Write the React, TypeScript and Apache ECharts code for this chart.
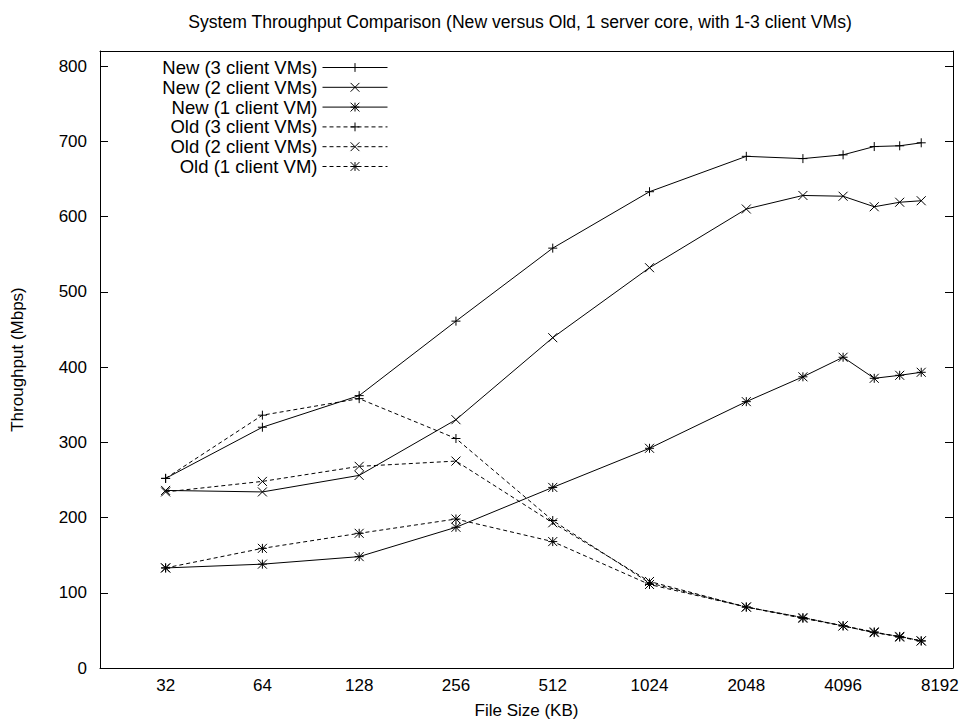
import React, { useEffect, useRef } from "react";
import * as echarts from "echarts";

// File sizes (KB) at which throughput was measured
const fileSizes = [32, 64, 128, 256, 512, 1024, 2048, 3072, 4096, 5120, 6144, 7168];
// X tick labels (KB)
const xTickSizes = [32, 64, 128, 256, 512, 1024, 2048, 4096, 8192];
// Y tick labels (Mbps)
const yTicks = [0, 100, 200, 300, 400, 500, 600, 700, 800];

const seriesNames = [
  "New (3 client VMs)",
  "New (2 client VMs)",
  "New (1 client VM)",
  "Old (3 client VMs)",
  "Old (2 client VMs)",
  "Old (1 client VM)",
];

const new3 = [252, 320, 362, 461, 558, 633, 680, 677, 682, 693, 694, 698];
const new2 = [236, 234, 256, 330, 439, 532, 610, 628, 627, 613, 619, 621];
const new1 = [133, 138, 148, 187, 240, 292, 354, 387, 413, 385, 389, 393];
const old3 = [252, 336, 358, 305, 196, 113, 81, 67, 56, 47, 42, 36];
const old2 = [234, 248, 268, 275, 193, 115, 81, 67, 56, 47, 42, 36];
const old1 = [133, 159, 179, 198, 168, 111, 81, 66, 56, 48, 41, 36];

const titleText =
  "System Throughput Comparison (New versus Old, 1 server core, with 1-3 client VMs)";

const X_MIN = 20;
const X_MAX = 9000;
const Y_MAX = 820;

const PLUS = "path://M0,5L10,5M5,0L5,10";
const CROSS = "path://M0,0L10,10M10,0L0,10";
const STAR = "path://M0,5L10,5M5,0L5,10M0,0L10,10M10,0L0,10";

const FONT = "'Liberation Sans', Arial, Helvetica, sans-serif";
const FS = 17;

export default function App() {
  const ref = useRef<HTMLDivElement>(null);

  useEffect(() => {
    if (!ref.current) return;
    const chart = echarts.init(ref.current, undefined, { renderer: "svg" });

    const valuesList = [new3, new2, new1, old3, old2, old1];
    const symbols = [PLUS, CROSS, STAR, PLUS, CROSS, STAR];
    const dashed = [false, false, false, true, true, true];

    const series = valuesList.map((vals, i) => ({
      name: seriesNames[i],
      type: "line",
      xAxisIndex: 0,
      yAxisIndex: 0,
      data: fileSizes.map((s, j) => [Math.log2(s), vals[j]]),
      symbol: symbols[i],
      symbolSize: 9,
      showSymbol: true,
      showAllSymbol: true,
      itemStyle: { color: "#000", borderColor: "#000", borderWidth: 1 },
      lineStyle: { color: "#000", width: 1, type: dashed[i] ? [4, 3] : "solid" },
      emphasis: { disabled: true },
      z: 3,
    }));

    const xMin = Math.log2(X_MIN);
    const xMax = Math.log2(X_MAX);
    const xTickVals = xTickSizes.map((s) => Math.log2(s));
    const axisLineStyle = { color: "#000", width: 1 };

    chart.setOption({
      animation: false,
      textStyle: { fontFamily: FONT, color: "#000" },
      graphic: [
        {
          type: "text",
          x: 520,
          y: 22,
          style: {
            text: titleText,
            textAlign: "center",
            textVerticalAlign: "middle",
            fontFamily: FONT,
            fontSize: 17.6,
            fill: "#000",
          },
        },
      ],
      grid: { left: 100, right: 9, top: 51, bottom: 54, containLabel: false },
      legend: {
        orient: "vertical",
        right: 574,
        top: 58,
        align: "right",
        itemWidth: 65,
        itemHeight: 11,
        itemGap: 0.8,
        padding: 0,
        selectedMode: false,
        lineStyle: { width: 1 },
        itemStyle: { borderWidth: 1 },
        textStyle: { fontFamily: FONT, fontSize: 18.5, color: "#000", lineHeight: 17.5 },
        data: seriesNames,
      },
      xAxis: [
        {
          type: "value",
          position: "bottom",
          min: xMin,
          max: xMax,
          axisLine: { show: true, onZero: false, lineStyle: axisLineStyle },
          axisTick: { show: false },
          splitLine: { show: false },
          axisLabel: {
            customValues: xTickVals,
            formatter: (v: number) => String(Math.round(Math.pow(2, v))),
            color: "#000",
            fontFamily: FONT,
            fontSize: FS,
            margin: 9,
          },
          name: "File Size (KB)",
          nameLocation: "middle",
          nameGap: 34,
          nameTextStyle: { fontFamily: FONT, fontSize: FS, color: "#000" },
        },
        {
          type: "value",
          position: "top",
          min: xMin,
          max: xMax,
          axisLine: { show: true, onZero: false, lineStyle: axisLineStyle },
          axisTick: { show: false },
          axisLabel: { show: false },
          splitLine: { show: false },
        },
      ],
      yAxis: [
        {
          type: "value",
          position: "left",
          min: 0,
          max: Y_MAX,
          axisLine: { show: true, onZero: false, lineStyle: axisLineStyle },
          axisTick: {
            show: true,
            inside: true,
            length: 8,
            customValues: yTicks,
            lineStyle: { color: "#000", width: 1 },
          },
          axisLabel: {
            customValues: yTicks,
            color: "#000",
            fontFamily: FONT,
            fontSize: FS,
            margin: 13,
          },
          splitLine: { show: false },
          name: "Throughput (Mbps)",
          nameLocation: "middle",
          nameRotate: 90,
          nameGap: 74,
          nameTextStyle: { fontFamily: FONT, fontSize: FS, color: "#000" },
        },
        {
          type: "value",
          position: "right",
          min: 0,
          max: Y_MAX,
          axisLine: { show: true, onZero: false, lineStyle: axisLineStyle },
          axisTick: {
            show: true,
            inside: true,
            length: 8,
            customValues: yTicks,
            lineStyle: { color: "#000", width: 1 },
          },
          axisLabel: { show: false },
          splitLine: { show: false },
        },
      ],
      series,
    });

    return () => {
      chart.dispose();
    };
  }, []);

  return (
    <div
      ref={ref}
      style={{ position: "fixed", left: 0, top: 0, width: 962, height: 724, background: "#fff" }}
    />
  );
}
